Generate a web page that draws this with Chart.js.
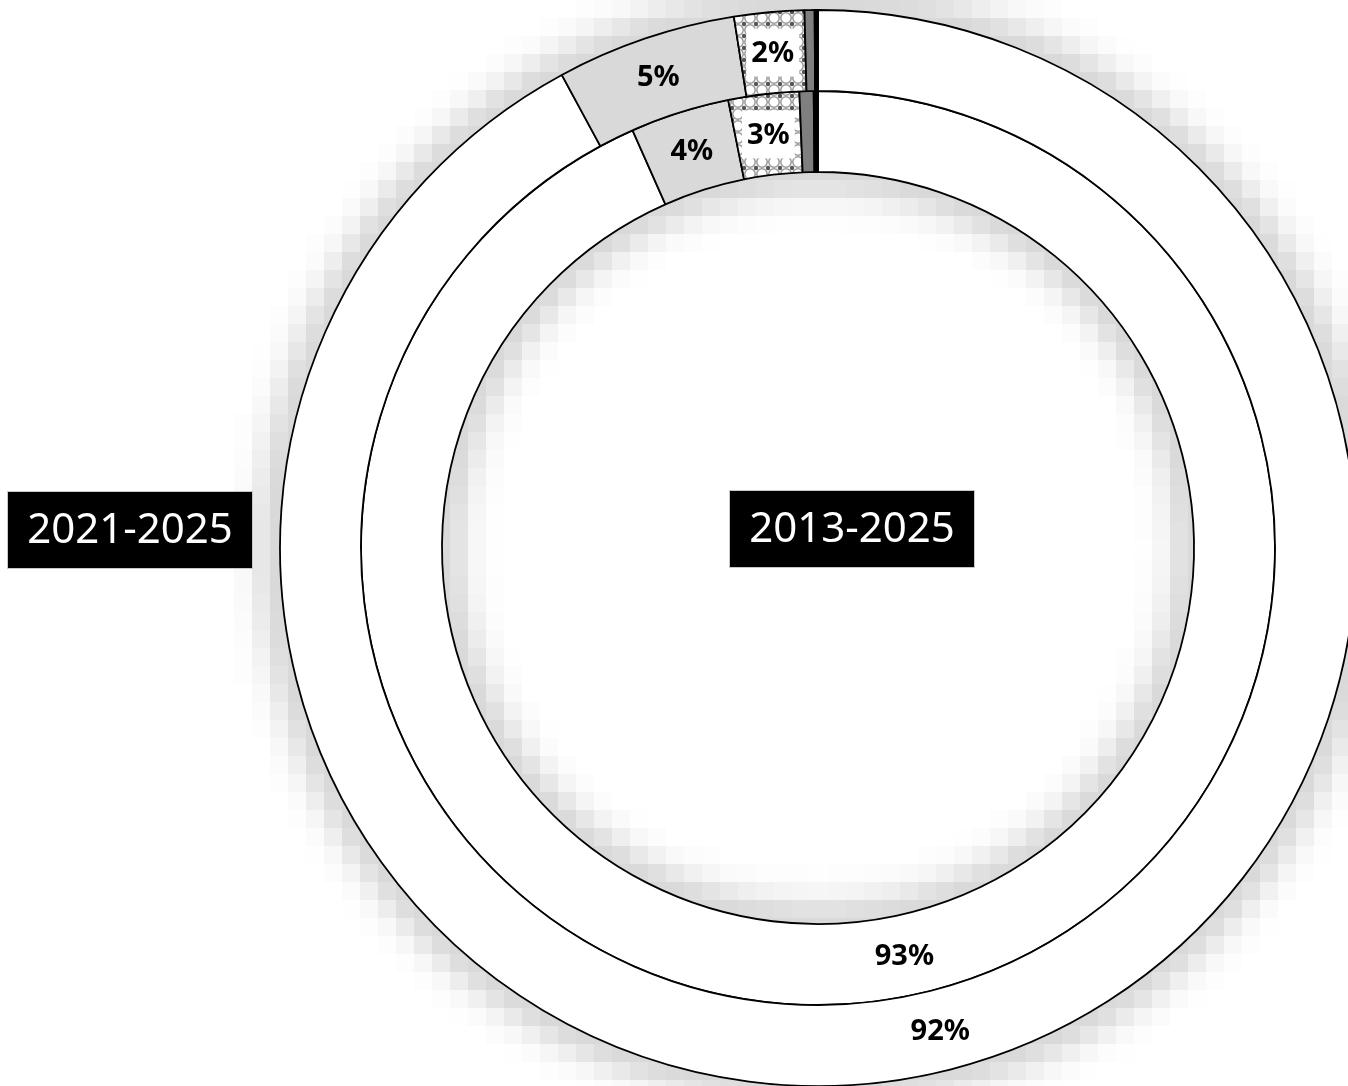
<!DOCTYPE html>
<html>
<head>
<meta charset="utf-8">
<script src="https://cdn.jsdelivr.net/npm/chart.js@4.4.1/dist/chart.umd.min.js"></script>
<style>
    html, body { margin: 0; padding: 0; background: #fff; overflow: hidden; }
    #wrap { width: 1348px; height: 1086px; }
</style>
</head>
<body>
<div id="wrap"><canvas id="myChart" width="1348" height="1086"></canvas></div>
<script>
// slices, clockwise from 12 o'clock
var categories = ['Categoria A', 'Categoria B', 'Categoria C', 'Categoria D', 'Categoria E'];
var ringLabels = ['2021-2025', '2013-2025'];
var values2021 = [92.1, 5.4, 2.1, 0.3, 0.1];
var values2013 = [93.35, 3.5, 2.5, 0.5, 0.15];

var config;

/////////////////////////////////////////////////////////////////
function crossPattern() {
    var c = document.createElement('canvas');
    c.width = 12;
    c.height = 12;
    var p = c.getContext('2d');
    p.fillStyle = '#ffffff';
    p.fillRect(0, 0, 12, 12);
    p.strokeStyle = '#9a9a9a';
    p.lineWidth = 1.5;
    p.beginPath();
    p.arc(6, 6, 5.2, 0, Math.PI * 2);
    p.stroke();
    p.fillStyle = '#555555';
    [[0, 0], [12, 0], [0, 12], [12, 12]].forEach(function (pt) {
        p.beginPath();
        p.arc(pt[0], pt[1], 2.2, 0, Math.PI * 2);
        p.fill();
    });
    return p.createPattern(c, 'repeat');
}

var hatch = crossPattern();
var sliceColors = ['#ffffff', '#d9d9d9', hatch, '#7f7f7f', '#000000'];
var labelBoxes = ['#ffffff', '#d9d9d9', '#ffffff', null, null];

/////////////////////////////////////////////////////////////////
// blocky soft shadow around the rings
var ringShadow = {
    id: 'ringShadow',
    beforeDatasetsDraw: function (chart) {
        var ctx = chart.ctx;
        var outer = chart.getDatasetMeta(0);
        var inner = chart.getDatasetMeta(1);
        var cx = outer.data[0].x;
        var cy = outer.data[0].y;
        var rOut = outer.controller.outerRadius;
        var rIn = inner.controller.innerRadius;
        var step = 18;
        ctx.save();
        for (var x = 0; x < chart.width; x += step) {
            for (var y = 0; y < chart.height; y += step) {
                var r = Math.hypot(x + step / 2 - cx, y + step / 2 - cy);
                var d = 0;
                if (r > rOut) d = r - rOut;
                else if (r < rIn) d = rIn - r;
                var a = 0.15 * Math.exp(-Math.pow(d / 28, 2));
                if (a < 0.004) continue;
                ctx.fillStyle = 'rgba(0,0,0,' + a.toFixed(3) + ')';
                ctx.fillRect(x, y, step, step);
            }
        }
        ctx.restore();
    }
};

/////////////////////////////////////////////////////////////////
// percentage labels on the slices and the period boxes
var sliceLabels = {
    id: 'sliceLabels',
    afterDatasetsDraw: function (chart) {
        var ctx = chart.ctx;
        ctx.save();
        ctx.textAlign = 'center';
        ctx.textBaseline = 'middle';
        chart.data.datasets.forEach(function (ds, i) {
            var meta = chart.getDatasetMeta(i);
            meta.data.forEach(function (arc, j) {
                var v = ds.data[j];
                if (v < 1) return;
                var pos = arc.tooltipPosition();
                var txt = Math.round(v) + '%';
                ctx.font = 'bold 29px "Noto Sans"';
                if (labelBoxes[j]) {
                    var w = ctx.measureText(txt).width + 10;
                    ctx.fillStyle = labelBoxes[j];
                    ctx.fillRect(pos.x - w / 2, pos.y - 24, w, 48);
                }
                ctx.fillStyle = '#000';
                ctx.fillText(txt, pos.x, pos.y + 1);
            });
        });

        var cx = chart.getDatasetMeta(0).data[0].x;
        var cy = chart.getDatasetMeta(0).data[0].y;
        var boxes = [
            { text: ringLabels[0], x: cx - 688, y: cy - 18 },
            { text: ringLabels[1], x: cx + 34, y: cy - 19 }
        ];
        ctx.font = '42px "Noto Sans"';
        boxes.forEach(function (b) {
            ctx.fillStyle = '#000';
            ctx.fillRect(b.x - 122, b.y - 38, 244, 76);
            ctx.strokeStyle = '#c8c8c8';
            ctx.lineWidth = 1;
            ctx.strokeRect(b.x - 122.5, b.y - 38.5, 245, 77);
            ctx.fillStyle = '#fff';
            ctx.fillText(b.text, b.x, b.y + 1);
        });
        ctx.restore();
    }
};

/////////////////////////////////////////////////////////////////
function doughnut_initial() {
    var data = {
        labels: categories,
        datasets: [{
            label: ringLabels[0],
            data: values2021,
            backgroundColor: sliceColors,
            borderColor: '#000000',
            borderWidth: 1.8
        }, {
            label: ringLabels[1],
            data: values2013,
            backgroundColor: sliceColors,
            borderColor: '#000000',
            borderWidth: 1.8
        }]
    };

    config = {
        type: 'doughnut',
        data: data,
        options: {
            responsive: false,
            animation: false,
            radius: 538,
            cutout: '69.89%',
            layout: { padding: { left: 288, right: 0, top: 10, bottom: 0 } },
            plugins: {
                legend: { display: false },
                tooltip: { enabled: false }
            },
            events: []
        },
        plugins: [ringShadow, sliceLabels]
    };
}

doughnut_initial();
var myChart = new Chart(document.getElementById('myChart'), config);
</script>
</body>
</html>
